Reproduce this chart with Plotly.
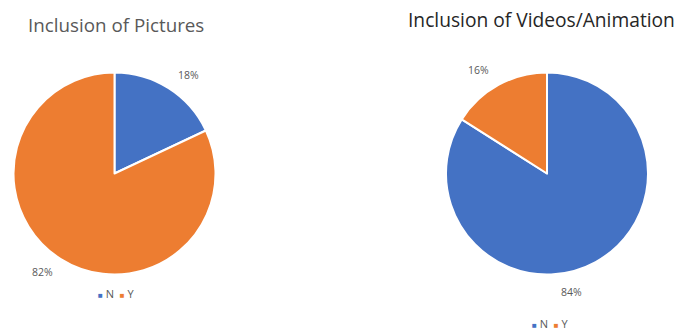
import plotly.graph_objects as go

categories = ["N", "Y"]
pictures_values = [18, 82]
videos_values = [84, 16]
titles = ["Inclusion of Pictures", "Inclusion of Videos/Animation"]
colors = ["#4472C4", "#ED7D31"]

W, H = 681, 330

def dom_x(cx, r):
    return [(cx - r) / W, (cx + r) / W]

def dom_y(cy, r):
    return [(H - (cy + r)) / H, (H - (cy - r)) / H]

fig = go.Figure()
fig.add_trace(go.Pie(
    labels=categories, values=pictures_values, sort=False, direction="clockwise",
    rotation=0, textinfo="none", hoverinfo="label+percent",
    marker=dict(colors=colors, line=dict(color="white", width=2)),
    domain=dict(x=dom_x(114.5, 101), y=dom_y(173.5, 101)), showlegend=False,
))
fig.add_trace(go.Pie(
    labels=categories, values=videos_values, sort=False, direction="clockwise",
    rotation=0, textinfo="none", hoverinfo="label+percent",
    marker=dict(colors=colors, line=dict(color="white", width=2)),
    domain=dict(x=dom_x(547, 101), y=dom_y(173.5, 101)), showlegend=False,
))

def pct(vals, i):
    return f"{round(100 * vals[i] / sum(vals))}%"

label_font = dict(family="Open Sans, sans-serif", size=10.5, color="#595959")
ann = []
# data labels
ann.append(dict(x=188 / W, y=1 - 75 / H, text=pct(pictures_values, 0)))
ann.append(dict(x=42 / W, y=1 - 272 / H, text=pct(pictures_values, 1)))
ann.append(dict(x=571 / W, y=1 - 292 / H, text=pct(videos_values, 0)))
ann.append(dict(x=478 / W, y=1 - 70 / H, text=pct(videos_values, 1)))
for a in ann:
    a.update(xref="paper", yref="paper", showarrow=False, font=label_font,
             xanchor="center", yanchor="middle")

# titles
ann.append(dict(x=26 / W, y=1 - 25 / H, text=titles[0], xref="paper", yref="paper",
                showarrow=False, xanchor="left", yanchor="middle",
                font=dict(family="Open Sans, sans-serif", size=18.8, color="#595959")))
ann.append(dict(x=677 / W, y=1 - 20 / H, text=titles[1], xref="paper", yref="paper",
                showarrow=False, xanchor="right", yanchor="middle",
                font=dict(family="Open Sans, sans-serif", size=19.2, color="#262626")))

# legends
def legend_text():
    parts = []
    for c, col in zip(categories, colors):
        parts.append(f"<span style='color:{col};font-size:8px'>■</span> {c}")
    return "  ".join(parts)

leg_font = dict(family="Open Sans, sans-serif", size=11, color="#595959")
ann.append(dict(x=116 / W, y=1 - 293 / H, text=legend_text(), xref="paper", yref="paper",
                showarrow=False, xanchor="center", yanchor="middle", font=leg_font))
ann.append(dict(x=550 / W, y=1 - 323 / H, text=legend_text(), xref="paper", yref="paper",
                showarrow=False, xanchor="center", yanchor="middle", font=leg_font))

fig.update_layout(
    width=W, height=H, margin=dict(l=0, r=0, t=0, b=0),
    paper_bgcolor="white", plot_bgcolor="white",
    annotations=ann, showlegend=False,
)
fig.write_html("out.html", config={"displayModeBar": False},
               post_script="document.body.style.margin='0';")
